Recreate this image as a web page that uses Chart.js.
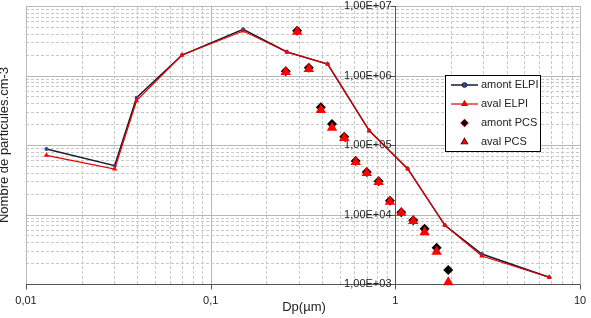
<!DOCTYPE html>
<html>
<head>
<meta charset="utf-8">
<script src="https://cdn.jsdelivr.net/npm/chart.js@4.4.1/dist/chart.umd.min.js"></script>
<style>
  html, body { margin: 0; padding: 0; background: #fff; }
  canvas { display: block; }
</style>
</head>
<body>
<canvas id="chart" width="591" height="318"></canvas>
<script>
const elpiDp = [0.0129, 0.0302, 0.0397, 0.070, 0.150, 0.259, 0.430, 0.722, 1.166, 1.856, 2.94, 6.81];
const amontElpi = [87500, 50400, 480000, 1970000, 4620000, 2180000, 1460000, 161000, 45600, 6980, 2700, 1250];
const avalElpi = [71000, 45200, 434000, 1970000, 4360000, 2180000, 1460000, 161000, 45600, 6980, 2530, 1250];

const pcsDp = [0.255, 0.294, 0.340, 0.395, 0.454, 0.529, 0.61, 0.70, 0.812, 0.935, 1.077, 1.25, 1.44, 1.673, 1.935];
const amontPcs = [1150000, 4400000, 1290000, 348000, 200000, 131000, 59000, 40900, 30000, 15800, 10800, 8240, 6250, 3330, 1590];
const avalPcs = [1120000, 4250000, 1240000, 319000, 177000, 126000, 57000, 39500, 29400, 15300, 10600, 8050, 5550, 2920, 1060];

const xTicks = [0.01, 0.1, 1, 10];
const xTickLabels = ["0,01", "0,1", "1", "10"];
const yTicks = [1e3, 1e4, 1e5, 1e6, 1e7];
const yTickLabels = ["1,00E+03", "1,00E+04", "1,00E+05", "1,00E+06", "1,00E+07"];

const xTitle = "Dp(µm)";
const yTitle = "Nombre de particules.cm-3";

const FONT = '"Liberation Sans", Arial, sans-serif';

function pts(xs, ys) {
  return xs.map((x, i) => ({ x: x, y: ys[i] }));
}

// grid, axes at x=1, labels, titles
const gridPlugin = {
  id: "gridPlugin",
  beforeDatasetsDraw(chart) {
    const ctx = chart.ctx;
    const xs = chart.scales.x;
    const ys = chart.scales.y;
    const a = chart.chartArea;
    ctx.save();
    ctx.lineWidth = 1;

    // minor lines
    ctx.strokeStyle = "#c8c8c8";
    ctx.setLineDash([3, 2]);
    for (let d = 0.01; d < 10; d *= 10) {
      for (let k = 2; k <= 9; k++) {
        const px = Math.round(xs.getPixelForValue(d * k)) + 0.5;
        ctx.beginPath();
        ctx.moveTo(px, a.top);
        ctx.lineTo(px, a.bottom);
        ctx.stroke();
      }
    }
    for (let d = 1e3; d < 1e7; d *= 10) {
      for (let k = 2; k <= 9; k++) {
        const py = Math.round(ys.getPixelForValue(d * k)) + 0.5;
        ctx.beginPath();
        ctx.moveTo(a.left, py);
        ctx.lineTo(a.right, py);
        ctx.stroke();
      }
    }

    // major lines
    ctx.setLineDash([]);
    ctx.strokeStyle = "#b8b8b8";
    xTicks.forEach(v => {
      const px = Math.round(xs.getPixelForValue(v)) + 0.5;
      ctx.beginPath();
      ctx.moveTo(px, a.top);
      ctx.lineTo(px, a.bottom);
      ctx.stroke();
    });
    yTicks.forEach(v => {
      const py = Math.round(ys.getPixelForValue(v)) + 0.5;
      ctx.beginPath();
      ctx.moveTo(a.left, py);
      ctx.lineTo(a.right, py);
      ctx.stroke();
    });

    // axes
    ctx.strokeStyle = "#555";
    const by = Math.round(ys.getPixelForValue(1e3)) + 0.5;
    ctx.beginPath();
    ctx.moveTo(a.left, by);
    ctx.lineTo(a.right, by);
    xTicks.forEach(v => {
      const px = Math.round(xs.getPixelForValue(v)) + 0.5;
      ctx.moveTo(px, by);
      ctx.lineTo(px, by + 5);
    });
    const ax = Math.round(xs.getPixelForValue(1)) + 0.5;
    ctx.moveTo(ax, a.top);
    ctx.lineTo(ax, a.bottom);
    yTicks.forEach(v => {
      const py = Math.round(ys.getPixelForValue(v)) + 0.5;
      ctx.moveTo(ax - 5, py);
      ctx.lineTo(ax, py);
    });
    ctx.stroke();

    // tick labels
    ctx.fillStyle = "#222";
    ctx.font = "11px " + FONT;
    ctx.textAlign = "right";
    ctx.textBaseline = "middle";
    yTicks.forEach((v, i) => {
      ctx.fillText(yTickLabels[i], ax - 4, ys.getPixelForValue(v));
    });
    ctx.textAlign = "center";
    xTicks.forEach((v, i) => {
      ctx.fillText(xTickLabels[i], xs.getPixelForValue(v), 301);
    });

    // titles
    ctx.font = "13px " + FONT;
    ctx.fillText(xTitle, 304, 307);
    ctx.translate(4, 145);
    ctx.rotate(-Math.PI / 2);
    ctx.fillText(yTitle, 0, 0);
    ctx.restore();
  },
  afterDraw(chart) {
    const ctx = chart.ctx;
    ctx.save();
    const bx = 445.5, by = 75.5, bw = 95, bh = 76;
    ctx.fillStyle = "#fff";
    ctx.fillRect(bx, by, bw, bh);
    ctx.strokeStyle = "#000";
    ctx.lineWidth = 1;
    ctx.strokeRect(bx, by, bw, bh);

    ctx.font = "11px " + FONT;
    ctx.textAlign = "left";
    ctx.textBaseline = "middle";
    chart.data.datasets.forEach((ds, i) => {
      const y = 85 + i * 19;
      if (ds.showLine) {
        ctx.strokeStyle = ds.borderColor;
        ctx.lineWidth = ds.borderWidth;
        ctx.beginPath();
        ctx.moveTo(451, y);
        ctx.lineTo(478, y);
        ctx.stroke();
      }
      Chart.helpers.drawPoint(ctx, {
        pointStyle: ds.pointStyle,
        radius: ds.showLine ? ds.pointRadius : 3.5,
        borderWidth: 1
      }, 464.5, y);
      ctx.fillStyle = ds.pointBackgroundColor;
      ctx.strokeStyle = ds.pointBorderColor;
      ctx.fill();
      ctx.fillStyle = "#222";
      ctx.fillText(ds.label, 481, y);
    });
    ctx.restore();
  }
};

const canvasRef = document.getElementById("chart");

const myChart = new Chart(canvasRef, {
  type: "scatter",
  data: {
    datasets: [
      {
        label: "amont ELPI",
        data: pts(elpiDp, amontElpi),
        showLine: true,
        borderColor: "#1a1a2e",
        borderWidth: 1.5,
        pointStyle: "circle",
        pointRadius: 2,
        pointBackgroundColor: "#2a4a9a",
        pointBorderColor: "#2a4a9a",
        pointBorderWidth: 0,
        order: 4
      },
      {
        label: "aval ELPI",
        data: pts(elpiDp, avalElpi),
        showLine: true,
        borderColor: "#e00000",
        borderWidth: 1.2,
        pointStyle: "triangle",
        pointRadius: 3,
        pointBackgroundColor: "#ff0000",
        pointBorderColor: "#ff0000",
        pointBorderWidth: 0,
        order: 3
      },
      {
        label: "amont PCS",
        data: pts(pcsDp, amontPcs),
        showLine: false,
        pointStyle: "rectRot",
        pointRadius: 5,
        pointBackgroundColor: "#000",
        pointBorderColor: "#000",
        pointBorderWidth: 0,
        clip: false,
        order: 2
      },
      {
        label: "aval PCS",
        data: pts(pcsDp, avalPcs),
        showLine: false,
        pointStyle: "triangle",
        pointRadius: 6,
        pointBackgroundColor: "#ff0000",
        pointBorderColor: "#ff0000",
        pointBorderWidth: 0,
        clip: false,
        order: 1
      }
    ]
  },
  options: {
    responsive: false,
    animation: false,
    devicePixelRatio: 1,
    layout: { padding: { left: 26, top: 6, right: 11, bottom: 34 } },
    plugins: {
      legend: { display: false },
      tooltip: { enabled: false }
    },
    scales: {
      x: { type: "logarithmic", min: 0.01, max: 10, display: false },
      y: { type: "logarithmic", min: 1000, max: 10000000, display: false }
    }
  },
  plugins: [gridPlugin]
});
</script>
</body>
</html>
